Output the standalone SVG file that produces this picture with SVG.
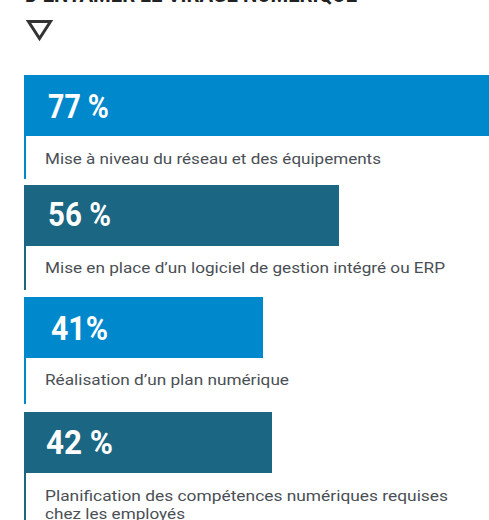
<svg xmlns="http://www.w3.org/2000/svg" width="489" height="520" viewBox="0 0 489 520">
<style>
.title{font-family:"Roboto","Liberation Sans",sans-serif;font-weight:700;font-size:24px;fill:#222}
.pct{font-family:"Roboto","Liberation Sans",sans-serif;font-weight:700;font-size:34px;fill:#fff}
.lbl{font-family:"Roboto","Liberation Sans",sans-serif;font-size:15.5px;fill:#4a4f55}
.lb{fill:#0088cc}
.dk{fill:#1a6683}
</style>
<rect width="489" height="520" fill="#fff"/>
<text class="title" x="25" y="2" textLength="332" lengthAdjust="spacingAndGlyphs">D’ENTAMER LE VIRAGE NUMÉRIQUE</text>
<path d="M28.5 21.5 H50.5 L39.5 38.5 Z" fill="none" stroke="#333" stroke-width="3" stroke-linejoin="miter"/>
<g id="bar1">
<rect class="lb" x="24" y="75" width="465" height="61"/>
<rect class="lb" x="24" y="136" width="2" height="43"/>
<text class="pct" x="48" y="118" textLength="61" lengthAdjust="spacingAndGlyphs">77 %</text>
<text class="lbl" x="45" y="164" textLength="336" lengthAdjust="spacingAndGlyphs">Mise à niveau du réseau et des équipements</text>
</g>
<g id="bar2">
<rect class="dk" x="24" y="185" width="315" height="61"/>
<rect class="dk" x="24" y="246" width="2" height="44"/>
<text class="pct" x="48" y="226" textLength="63" lengthAdjust="spacingAndGlyphs">56 %</text>
<text class="lbl" x="45" y="273" textLength="400" lengthAdjust="spacingAndGlyphs">Mise en place d’un logiciel de gestion intégré ou ERP</text>
</g>
<g id="bar3">
<rect class="lb" x="24" y="297" width="239" height="61"/>
<rect class="lb" x="24" y="358" width="2" height="46"/>
<text class="pct" x="51" y="340" textLength="57" lengthAdjust="spacingAndGlyphs">41%</text>
<text class="lbl" x="45" y="385" textLength="244" lengthAdjust="spacingAndGlyphs">Réalisation d’un plan numérique</text>
</g>
<g id="bar4">
<rect class="dk" x="24" y="412" width="248" height="61"/>
<rect class="dk" x="24" y="473" width="2" height="47"/>
<text class="pct" x="46" y="454" textLength="67" lengthAdjust="spacingAndGlyphs">42 %</text>
<text class="lbl" x="45" y="501" textLength="403" lengthAdjust="spacingAndGlyphs">Planification des compétences numériques requises</text>
<text class="lbl" x="45" y="519" textLength="140" lengthAdjust="spacingAndGlyphs">chez les employés</text>
</g>
</svg>
